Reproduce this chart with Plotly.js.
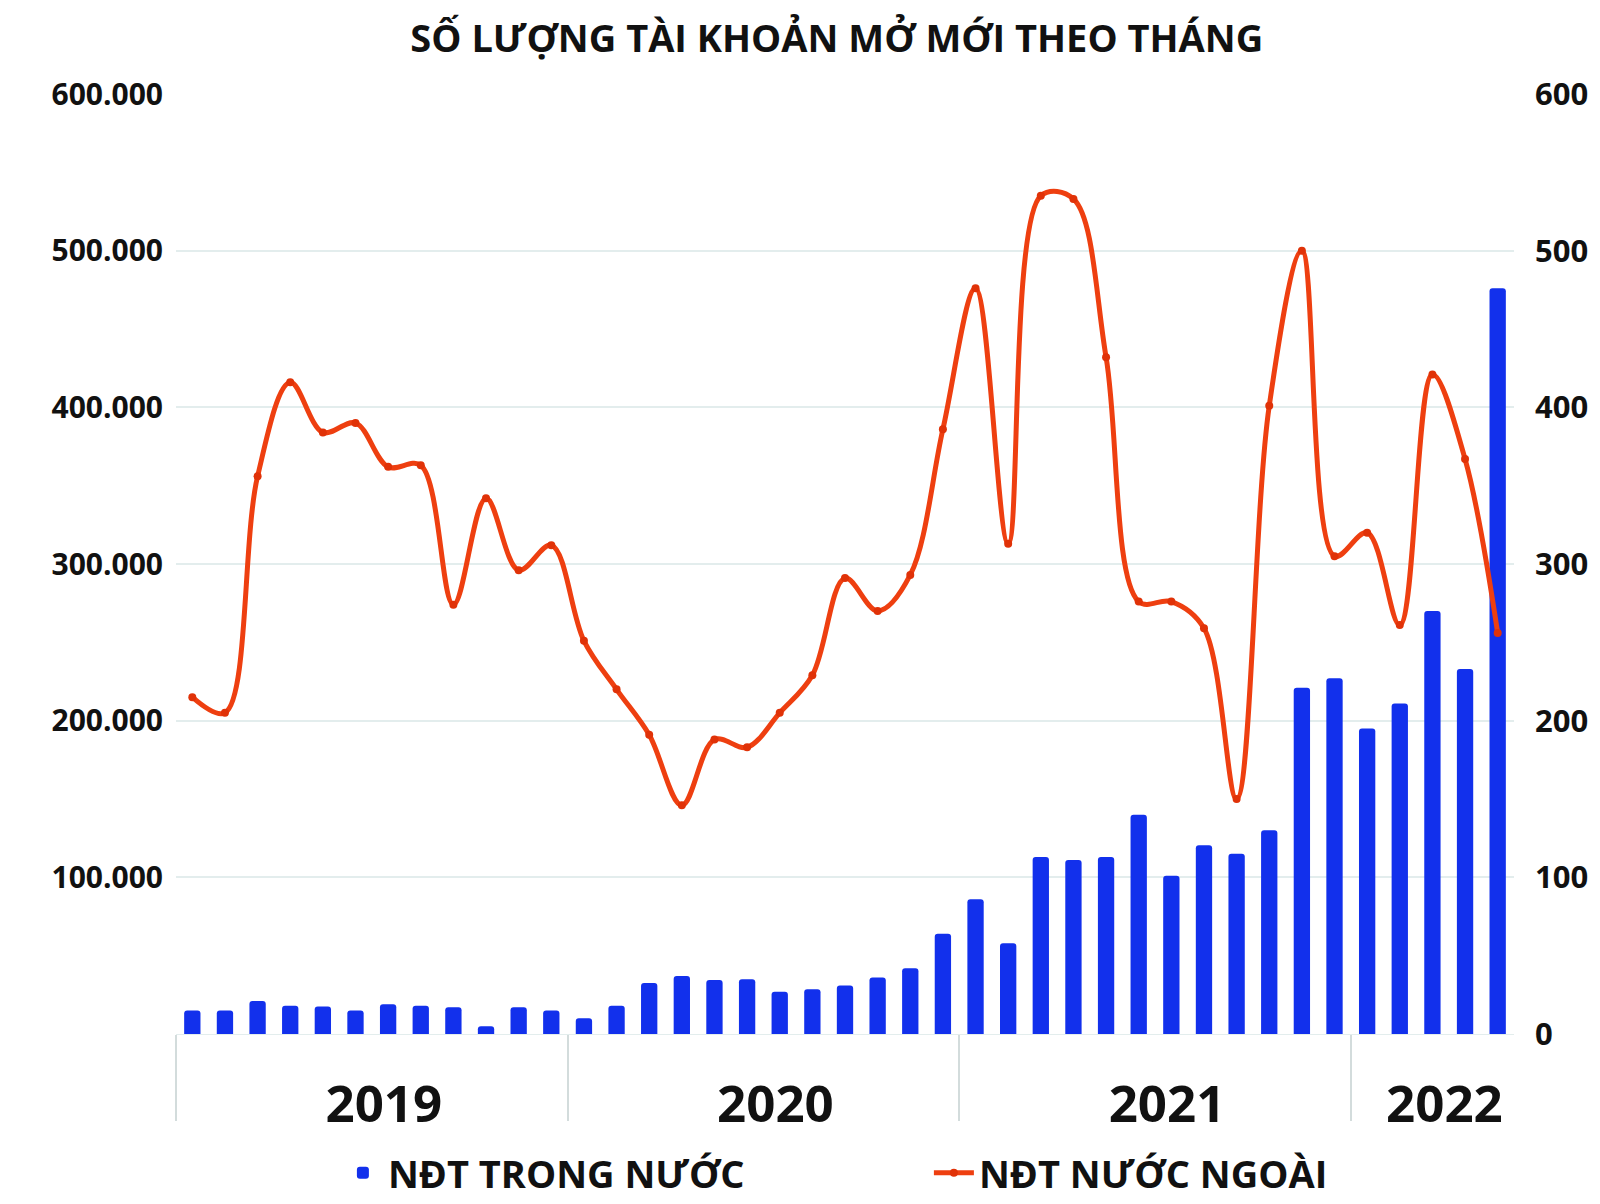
<!DOCTYPE html>
<html>
<head>
<meta charset="utf-8">
<script src="https://cdn.plot.ly/plotly-3.0.1.min.js"></script>
<style>html,body{margin:0;padding:0;background:#fff;}#chart{width:1600px;height:1204px;}</style>
</head>
<body>
<div id="chart"></div>
<script>
var months = ['01/2019','02/2019','03/2019','04/2019','05/2019','06/2019','07/2019','08/2019','09/2019','10/2019','11/2019','12/2019',
  '01/2020','02/2020','03/2020','04/2020','05/2020','06/2020','07/2020','08/2020','09/2020','10/2020','11/2020','12/2020',
  '01/2021','02/2021','03/2021','04/2021','05/2021','06/2021','07/2021','08/2021','09/2021','10/2021','11/2021','12/2021',
  '01/2022','02/2022','03/2022','04/2022','05/2022'];
var years = ['2019','2020','2021','2022'];
var domestic = [15000,15000,21000,18000,17500,15000,19000,18000,17000,5000,17000,15000,
  10000,18000,32500,37000,34500,35000,27000,28500,31000,36000,42000,64000,
  86000,58000,113000,111000,113000,140000,101000,120500,115000,130000,221000,227000,
  195000,211000,270000,233000,476000];
var foreign = [215,205,356,416,384,390,362,363,274,342,296,312,
  251,220,191,146,188,183,205,229,291,270,293,386,
  476,313,535,533,432,276,276,259,150,401,500,305,
  320,261,421,367,256];
var leftTicks = [100000,200000,300000,400000,500000,600000];
var rightTicks = [0,100,200,300,400,500,600];

var idx = months.map(function(m,i){return i;});
var yearOf = months.map(function(m){return m.split('/')[1];});
var yearCenters = years.map(function(y){
  var ii = idx.filter(function(i){return yearOf[i]===y;});
  return (ii[0]+ii[ii.length-1])/2;
});
var yearStarts = years.map(function(y){
  var ii = idx.filter(function(i){return yearOf[i]===y;});
  return ii[0]-0.5;
});

var FONT = '"Open Sans", "Noto Sans", sans-serif';

var traces = [
  {type:'bar', name:'NĐT TRONG NƯỚC', x:idx, y:domestic, hovertext:months, hoverinfo:'text+y', textposition:'none',
   marker:{color:'#1230ec', cornerradius:3}, yaxis:'y'},
  {type:'scatter', mode:'lines+markers', name:'NĐT NƯỚC NGOÀI', x:idx, y:foreign, hovertext:months, hoverinfo:'text+y',
   line:{color:'#ee3f10', width:5, shape:'spline', smoothing:1},
   marker:{color:'#e03208', size:8}, yaxis:'y2'}
];

var layout = {
  width:1600, height:1204,
  paper_bgcolor:'#ffffff', plot_bgcolor:'#ffffff',
  separators:',.',
  margin:{l:176, r:86, t:94, b:170, autoexpand:false},
  font:{family:FONT, color:'#111', size:30},
  title:{text:'<b>SỐ LƯỢNG TÀI KHOẢN MỞ MỚI THEO THÁNG</b>', x:0.523, xanchor:'center', y:0.968, yanchor:'middle',
    font:{family:FONT, size:38, color:'#111'}},
  bargap:0.5,
  showlegend:true,
  legend:{orientation:'h', x:0.121, xanchor:'left', y:-0.148, yanchor:'middle',
    font:{family:FONT, size:38, color:'#111', weight:'bold'}, entrywidth:536, itemwidth:40, bgcolor:'rgba(0,0,0,0)'},
  xaxis:{range:[-0.5, months.length-0.5], showgrid:false, zeroline:false, showline:false, automargin:false,
    tickmode:'array', tickvals:yearCenters, ticktext:years.map(function(y){return '<b>'+y+'</b>';}),
    ticks:'', ticklabelstandoff:36, ticklabelshift:12, tickfont:{family:FONT, size:51, color:'#111'},
    minor:{tickmode:'array', tickvals:yearStarts, ticks:'outside', ticklen:86, tickcolor:'#d3dcdc', tickwidth:2, showgrid:false}},
  yaxis:{range:[0,600000], tickmode:'array', tickvals:leftTicks, tickformat:',d', showgrid:true, gridcolor:'#e3eded', gridwidth:2,
    zeroline:true, zerolinecolor:'#e3eded', zerolinewidth:1, showline:false, ticks:'', ticklabelstandoff:12, automargin:false,
    tickfont:{family:FONT, size:30, color:'#111', weight:'bold'}},
  yaxis2:{range:[0,600], overlaying:'y', side:'right', tickmode:'array', tickvals:rightTicks, showgrid:false, zeroline:false,
    showline:false, ticks:'', ticklabelstandoff:20, automargin:false, tickfont:{family:FONT, size:31, color:'#111', weight:'bold'}}
};

Plotly.newPlot('chart', traces, layout, {displayModeBar:false, responsive:false});
</script>
</body>
</html>
